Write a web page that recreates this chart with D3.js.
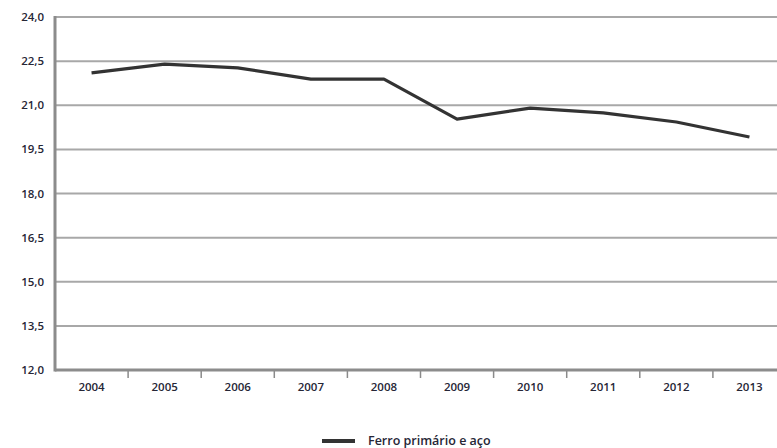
<!DOCTYPE html>
<meta charset="utf-8">
<script src="https://d3js.org/d3.v7.min.js"></script>
<style>
  body { margin: 0; background: #fff; }
  svg text { font-family: "Open Sans", "Lato", sans-serif; fill: #262636; font-weight: 600; }
</style>
<body>
<div id="chart"></div>
<script>
// data
var years = ["2004", "2005", "2006", "2007", "2008", "2009", "2010", "2011", "2012", "2013"];
var ferro = [22.1, 22.4, 22.27, 21.89, 21.89, 20.53, 20.9, 20.74, 20.43, 19.92];
var yTicks = [12.0, 13.5, 15.0, 16.5, 18.0, 19.5, 21.0, 22.5, 24.0];
var seriesName = "Ferro primário e aço";

var width = 777, height = 448;
var plotLeft = 55, plotTop = 17, plotBottom = 370;
var band = 73.1;

var svg = d3.select("#chart")
  .append("svg")
    .attr("width", width)
    .attr("height", height);

// x is a band scale, runs a bit off the right edge like the original crop
var x = d3.scaleBand()
  .domain(years)
  .range([plotLeft, plotLeft + band * years.length])
  .padding(0);

var y = d3.scaleLinear()
  .domain([12, 24])
  .range([plotBottom, plotTop]);

var fmt = function(d) { return d3.format(".1f")(d).replace(".", ","); };

// gridlines
svg.append("g")
  .selectAll("line")
  .data(yTicks.filter(function(d) { return d > 12; }))
  .enter().append("line")
    .attr("x1", plotLeft)
    .attr("x2", width)
    .attr("y1", function(d) { return y(d); })
    .attr("y2", function(d) { return y(d); })
    .attr("stroke", "#a8a8a8")
    .attr("stroke-width", 2);

// y labels
svg.append("g")
  .selectAll("text")
  .data(yTicks)
  .enter().append("text")
    .attr("x", 44)
    .attr("y", function(d) { return y(d) + 4; })
    .attr("text-anchor", "end")
    .style("font-size", "11.5px")
    .text(fmt);

// x ticks between years
svg.append("g")
  .selectAll("line")
  .data(years.slice(1))
  .enter().append("line")
    .attr("x1", function(d) { return x(d); })
    .attr("x2", function(d) { return x(d); })
    .attr("y1", plotBottom)
    .attr("y2", plotBottom + 8)
    .attr("stroke", "#8a8a8a")
    .attr("stroke-width", 1.5);

// x labels
svg.append("g")
  .selectAll("text")
  .data(years)
  .enter().append("text")
    .attr("x", function(d) { return x(d) + x.bandwidth() / 2; })
    .attr("y", plotBottom + 21)
    .attr("text-anchor", "middle")
    .style("font-size", "11.5px")
    .text(function(d) { return d; });

// axes frame
svg.append("line")
  .attr("x1", plotLeft).attr("x2", plotLeft)
  .attr("y1", plotTop - 1).attr("y2", plotBottom + 1.5)
  .attr("stroke", "#8c8c8c").attr("stroke-width", 3);
svg.append("line")
  .attr("x1", plotLeft).attr("x2", width)
  .attr("y1", plotBottom).attr("y2", plotBottom)
  .attr("stroke", "#8c8c8c").attr("stroke-width", 3);

// the line
svg.append("path")
  .datum(ferro)
  .attr("fill", "none")
  .attr("stroke", "#333333")
  .attr("stroke-width", 3.2)
  .attr("stroke-linejoin", "round")
  .attr("d", d3.line()
    .x(function(d, i) { return x(years[i]) + x.bandwidth() / 2; })
    .y(function(d) { return y(d); }));

// legend
var lg = svg.append("g").attr("transform", "translate(322,441)");
lg.append("line")
  .attr("x1", 0).attr("x2", 33)
  .attr("y1", 0).attr("y2", 0)
  .attr("stroke", "#333333").attr("stroke-width", 4);
lg.append("text")
  .attr("x", 46)
  .attr("y", 4)
  .style("font-size", "12.5px")
  .text(seriesName);
</script>
</body>
